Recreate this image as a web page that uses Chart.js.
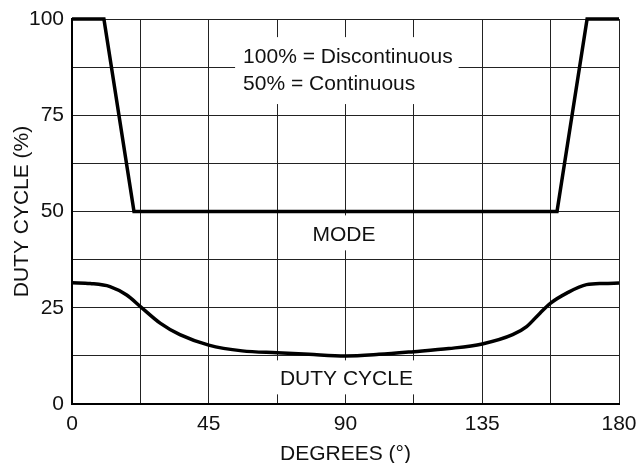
<!DOCTYPE html>
<html>
<head>
<meta charset="utf-8">
<script src="https://cdn.jsdelivr.net/npm/chart.js@4/dist/chart.umd.min.js"></script>
<style>
html, body { margin: 0; padding: 0; background: #fff; }
#wrap { width: 636px; height: 463px; }
</style>
</head>
<body>
<div id="wrap"><canvas id="dutyChart" width="636" height="463"></canvas></div>
<script>
// 工作模式曲线 (角度 -> 占空比 %)
const modeDeg = [0, 10.5, 20.4, 159.6, 169.5, 180];
const modeVal = [100, 100, 50, 50, 100, 100];

// 占空比曲线
const dutyDeg = [0, 6, 12.5, 18, 22.5, 29, 35.5, 45, 56, 67.5, 78, 90, 101, 112.5, 124, 135, 145, 149.6, 154, 157.5, 162.8, 169.3, 175, 180];
const dutyVal = [31.5, 31.3, 30.5, 28.3, 25.3, 21, 18, 15.3, 13.8, 13.3, 12.9, 12.5, 12.9, 13.6, 14.4, 15.6, 18, 20.1, 23.6, 26.2, 28.8, 31, 31.3, 31.4];

// 刻度标签
const xTicks = [0, 45, 90, 135, 180];
const yTicks = [0, 25, 50, 75, 100];

// 图内文字
const noteLines = ['100% = Discontinuous', '50% = Continuous'];
const modeLabel = 'MODE';
const dutyLabel = 'DUTY CYCLE';

const FONT = '"Liberation Sans", Arial, Helvetica, sans-serif';
const INK = '#111';

function toPoints(xs, ys) {
    return xs.map((x, i) => ({ x: x, y: ys[i] }));
}

// 在网格之上、曲线之下画带白底的文字
const notesPlugin = {
    id: 'notes',
    beforeDatasetsDraw(chart) {
        const ctx = chart.ctx;
        const xs = chart.scales.x;
        const ys = chart.scales.y;
        ctx.save();
        ctx.font = '21px ' + FONT;
        ctx.textBaseline = 'middle';

        // 说明框
        const lx = xs.getPixelForValue(56.3);
        const ly1 = ys.getPixelForValue(90.1);
        const ly2 = ys.getPixelForValue(83.1);
        const w = Math.max(...noteLines.map(t => ctx.measureText(t).width));
        ctx.fillStyle = '#fff';
        ctx.fillRect(lx - 8, ly1 - 20, w + 14, ly2 - ly1 + 40);
        ctx.fillStyle = INK;
        ctx.textAlign = 'left';
        ctx.fillText(noteLines[0], lx, ly1);
        ctx.fillText(noteLines[1], lx, ly2);

        // MODE
        ctx.textAlign = 'center';
        const mx = xs.getPixelForValue(89.5);
        const my = ys.getPixelForValue(43.8);
        const mw = ctx.measureText(modeLabel).width;
        ctx.fillStyle = '#fff';
        ctx.fillRect(mx - mw / 2 - 6, my - 20, mw + 12, 35);
        ctx.fillStyle = INK;
        ctx.fillText(modeLabel, mx, my);

        // DUTY CYCLE
        const dx = xs.getPixelForValue(90.3);
        const dy = ys.getPixelForValue(6.4);
        const dw = ctx.measureText(dutyLabel).width;
        ctx.fillStyle = '#fff';
        ctx.fillRect(dx - dw / 2 - 10, dy - 19, dw + 20, 34);
        ctx.fillStyle = INK;
        ctx.fillText(dutyLabel, dx, dy);

        ctx.restore();
    }
};

Chart.defaults.font.family = FONT;
Chart.defaults.font.size = 21;
Chart.defaults.color = INK;

const ctx = document.getElementById('dutyChart').getContext('2d');
new Chart(ctx, {
    type: 'line',
    data: {
        datasets: [
            {
                label: 'MODE',
                data: toPoints(modeDeg, modeVal),
                borderColor: '#000',
                borderWidth: 3.5,
                tension: 0,
                pointRadius: 0,
                clip: false
            },
            {
                label: 'DUTY CYCLE',
                data: toPoints(dutyDeg, dutyVal),
                borderColor: '#000',
                borderWidth: 3.5,
                cubicInterpolationMode: 'monotone',
                pointRadius: 0,
                clip: false
            }
        ]
    },
    options: {
        responsive: false,
        animation: false,
        devicePixelRatio: 1,
        layout: { padding: { left: 0, right: 17, top: 19, bottom: 0 } },
        plugins: {
            legend: { display: false },
            tooltip: { enabled: false }
        },
        scales: {
            x: {
                type: 'linear',
                min: 0,
                max: 180,
                afterFit: s => {
                    s.height = 59;
                    s.paddingLeft = 0;
                    s.paddingRight = 0;
                },
                ticks: {
                    stepSize: 22.5,
                    autoSkip: false,
                    maxRotation: 0,
                    padding: 8,
                    callback: v => xTicks.includes(v) ? String(v) : ''
                },
                grid: { color: '#222', lineWidth: 1, drawTicks: false },
                border: { color: '#000', width: 2 },
                title: {
                    display: true,
                    text: 'DEGREES (°)',
                    font: { lineHeight: 0.85 },
                    padding: { top: 0, bottom: 0 }
                }
            },
            y: {
                min: 0,
                max: 100,
                afterFit: s => {
                    s.width = 72;
                    s.paddingTop = 0;
                    s.paddingBottom = 0;
                },
                ticks: {
                    stepSize: 12.5,
                    autoSkip: false,
                    padding: 8,
                    callback: v => yTicks.includes(v) ? String(v) : ''
                },
                grid: { color: '#222', lineWidth: 1, drawTicks: false },
                border: { color: '#000', width: 2 },
                title: {
                    display: true,
                    text: 'DUTY CYCLE (%)',
                    padding: { top: 10, bottom: 0 }
                }
            }
        }
    },
    plugins: [notesPlugin]
});
</script>
</body>
</html>
